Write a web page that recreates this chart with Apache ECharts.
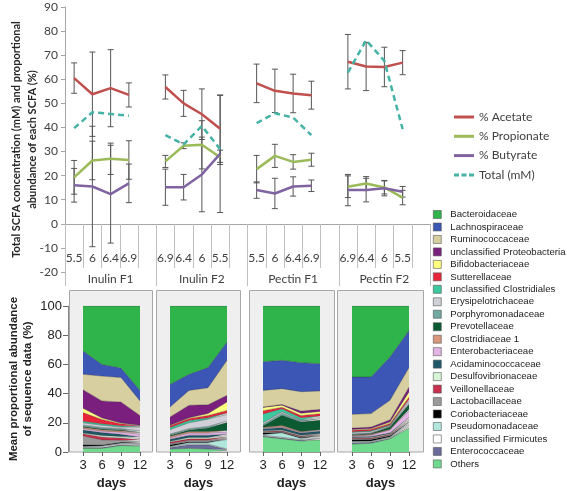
<!DOCTYPE html>
<html><head><meta charset="utf-8">
<script src="https://cdn.jsdelivr.net/npm/echarts@6/dist/echarts.min.js"></script>
<style>html,body{margin:0;padding:0;background:#fff}#c{width:567px;height:491px}</style>
</head><body><div id="c"></div>
<script>
// ---------- Top chart data ----------
const phLabels = ['5.5','6','6.4','6.9','', '6.9','6.4','6','5.5','', '5.5','6','6.4','6.9','', '6.9','6.4','6','5.5',''];
const groups = ['Inulin F1','Inulin F2','Pectin F1','Pectin F2'];
const acetate    = [60.5,53.8,56.3,53.5,null, 56.8,50,45.5,39.5,null, 58.3,55.2,54.1,53.4,null, 67.3,65.3,65.1,66.9,null];
const acetateErr = [6.3,17.5,16,5,null, 5,5.4,10.5,14,null, 8,9,8,5.8,null, 11.3,10,8.2,5,null];
const propionate    = [19.3,26.3,27,26.5,null, 25.9,32.4,32.8,27.6,null, 22.7,28.2,25.7,26.6,null, 15.4,16.7,15.1,10.9,null];
const propionateErr = [7,8,6.5,8,null, 2.5,1.2,10,3,null, 5.7,4.8,3,2.7,null, 4.5,2.9,2.7,3,null];
const butyrate    = [16,15.5,12.3,16.8,null, 15.2,15.2,20.5,29,null, 14,12.6,15.5,15.8,null, 14,14,14.8,13.3,null];
const butyrateErr = [7,25,20.3,8,null, 7.5,5.3,15.5,24.3,null, 3.4,6.3,4,2.4,null, 6.5,4.9,3.2,2.2,null];
const totalMM = [39.7,46.3,45.6,44.9,null, 36.8,33,40.6,31,null, 41.8,45.9,44.1,36.8,null, 62.8,76.2,67.6,39.3,null];

// ---------- Bottom chart data ----------
const days = ['3','6','9','12'];
const taxa = ['Bacteroidaceae','Lachnospiraceae','Ruminococcaceae','unclassified Proteobacteria','Bifidobacteriaceae','Sutterellaceae','unclassified Clostridiales','Erysipelotrichaceae','Porphyromonadaceae','Prevotellaceae','Clostridiaceae 1','Enterobacteriaceae','Acidaminococcaceae','Desulfovibrionaceae','Veillonellaceae','Lactobacillaceae','Coriobacteriaceae','Pseudomonadaceae','unclassified Firmicutes','Enterococcaceae','Others'];
const taxaColors = ['#2FB34B','#3B56B5','#D8CFA0','#7A1F7E','#FFFF80','#E8263A','#3CC9A0','#D0D0D8','#70A8A2','#0C5A32','#D9977B','#E4B4E6','#1E5868','#D8F5D8','#C8304C','#9A9A9A','#000000','#B0E6DC','#FFFFFF','#6A6A9C','#70DA8C'];
const inulinF1 = [
  [30.8,40,42.5,57.8],[16,8,6.5,7.2],[10.5,17,16.8,10],[12.7,11.7,14.3,6.7],[3,1,0.5,0.3],[6,3,1.5,0.5],
  [1,1,0.8,0.5],[1.5,1.5,1,2.5],[1,1,1,1],[0.5,0.5,0.5,0.5],[1,1,1,0.8],[1,1,1.5,2],[2,2,1.5,1],
  [0.5,1,1,1],[1.5,2,1.5,1],[6,3.5,1.5,1],[1,0.5,0.5,0.5],[0.5,0.5,0.5,0.5],[0.5,0.8,0.6,0.6],[0.5,0.5,0.6,0.6],[2.5,2.5,4.4,4]
];
const inulinF2 = [
  [53.7,46.8,42.2,24.7],[15.5,11,13.8,12.5],[6.8,10.2,11.6,24],[5.7,8.5,6.1,4.6],[0.3,0.5,1.3,5.7],[1.2,1.5,1.5,1.8],
  [1.5,1.5,1,1],[3,4,5,4.5],[1,1,1,1],[0.5,1,2.5,5.5],[1,1,1,1],[1,1.5,1.5,1.5],[1.5,1.5,1.5,1],
  [0.5,1,1,1],[1,1,1,0.7],[0.8,1,1,0.5],[1,0.5,0.5,0.5],[0.5,1,1,6.5],[0.5,0.5,0.5,0.5],[1,2.5,3,0.5],[2,2.5,2,1]
];
const pectinF1 = [
  [38.2,37.2,38.8,39.5],[19.6,19.4,19.9,18.7],[11.4,10.8,13.3,12.6],[0.3,0.5,1.5,1.5],[2.2,1.5,1.5,1.5],[2.3,1,1.5,1.5],
  [6,2,1.5,1],[1,1,0.5,1],[1,1.5,1,1],[1,7,6.5,6.5],[0.5,1,0.5,0.5],[0.5,0.5,0.5,0.5],[1.5,1.5,1.5,1.5],
  [0.5,0.5,0.5,0.5],[0.5,0.5,0.5,0.5],[0.5,0.5,0.5,0.5],[1,0.5,0.5,0.5],[0.5,3,1,1],[0.5,0.5,0.5,0.5],[0.5,0.6,0.5,1],[10.5,9,7.5,8.2]
];
const pectinF2 = [
  [48.6,48.6,35,16.7],[25.6,25.1,29.6,25.5],[9.4,9.2,13.3,13.3],[1,1,1.5,3.4],[0.5,0.5,1,3.4],[1,1,1,1.5],
  [0.5,0.5,0.5,1],[1,1,0.5,1.5],[0.5,0.5,0.5,1],[0.5,0.5,1.5,3.4],[0.5,0.5,0.5,1],[0.5,1,2,4.5],[0.5,0.5,0.5,1],
  [0.5,0.5,0.5,1],[0.5,0.5,0.5,1],[0.5,0.5,0.5,0.5],[1,1,0.6,1],[0.5,0.5,0.5,1],[0.5,0.5,0.5,1],[1,0.6,0.5,1],[5.4,6,9,16.3]
];
const panels = [inulinF1, inulinF2, pectinF1, pectinF2];

// ---------- build ----------
const chart = echarts.init(document.getElementById('c'), null, {renderer:'canvas'});
const topFont = 'Lato';
const botFont = 'Liberation Sans';
const lineColors = {'% Acetate':'#C0504D','% Propionate':'#9BBB59','% Butyrate':'#8064A2','Total (mM)':'#45B3A6'};

function errData(vals, errs){
  const out = [];
  vals.forEach((v,i)=>{ if(v!=null && errs[i]!=null) out.push([i, v-errs[i], v+errs[i]]); });
  return out;
}
function errSeries(vals, errs){
  return {
    type:'custom', xAxisIndex:0, yAxisIndex:0, z:3, silent:true,
    data: errData(vals, errs),
    encode:{x:0, y:[1,2]},
    renderItem:(params, api)=>{
      const x = api.value(0);
      const lo = api.coord([x, api.value(1)]);
      const hi = api.coord([x, api.value(2)]);
      const w = 3;
      const st = {stroke:'#555555', lineWidth:1};
      return {type:'group', children:[
        {type:'line', shape:{x1:lo[0],y1:lo[1],x2:hi[0],y2:hi[1]}, style:st},
        {type:'line', shape:{x1:lo[0]-w,y1:lo[1],x2:lo[0]+w,y2:lo[1]}, style:st},
        {type:'line', shape:{x1:hi[0]-w,y1:hi[1],x2:hi[0]+w,y2:hi[1]}, style:st}
      ]};
    }
  };
}

function lineSeries(name, data, dashed){
  const c = lineColors[name];
  return {name:name, type:'line', data:data, symbol:'none', color:c, itemStyle:{color:c},
    lineStyle:{width:2.5, color:c, type: dashed ? [6,4] : 'solid'}, z:4};
}
const series = [
  lineSeries('% Acetate', acetate),
  lineSeries('% Propionate', propionate),
  lineSeries('% Butyrate', butyrate),
  lineSeries('Total (mM)', totalMM, true),
  errSeries(acetate, acetateErr),
  errSeries(propionate, propionateErr),
  errSeries(butyrate, butyrateErr)
];

panels.forEach((pd, p)=>{
  for(let t=taxa.length-1; t>=0; t--){
    series.push({
      name:taxa[t], type:'line', xAxisIndex:p+2, yAxisIndex:p+1, stack:'s'+p,
      data:pd[t], symbol:'none', color:taxaColors[t],
      itemStyle:{color:taxaColors[t]},
      areaStyle:{color:taxaColors[t], opacity:1},
      lineStyle:{width:0.6, color:'rgba(40,40,40,0.55)'}
    });
  }
});

const plotLefts = [83,170,263,352];
const grids = [{left:62, top:7, width:368, height:265}];
plotLefts.forEach(l=>grids.push({left:l, top:306, width:57, height:146}));

const xAxes = [
  {type:'category', gridIndex:0, data:phLabels, boundaryGap:true, position:'bottom', offset:-48,
   axisLine:{show:true, onZero:false, lineStyle:{color:'#A6A6A6'}},
   axisTick:{show:true, length:44, lineStyle:{color:'#BFBFBF'}},
   axisLabel:{interval:0, margin:28, fontSize:12, color:'#404040', fontFamily:topFont}},
  {type:'category', gridIndex:0, data:groups, position:'bottom', offset:-48,
   axisLine:{show:false, onZero:false},
   axisTick:{show:true, length:62, lineStyle:{color:'#BFBFBF'}},
   axisLabel:{interval:0, margin:49, fontSize:12, color:'#404040', fontFamily:topFont}}
];
const yAxes = [
  {type:'value', gridIndex:0, min:-20, max:90, interval:10,
   axisLine:{show:true, lineStyle:{color:'#A6A6A6'}},
   axisTick:{show:true, length:4, lineStyle:{color:'#A6A6A6'}},
   splitLine:{show:false},
   axisLabel:{fontSize:12, color:'#404040', margin:7, fontFamily:topFont},
   name:'Total SCFA concentration (mM) and proportional\nabundance of each SCFA (%)',
   nameLocation:'middle', nameGap:25, nameMoveOverlap:false,
   nameTextStyle:{fontWeight:'bold', fontSize:11, lineHeight:16, color:'#262626', fontFamily:topFont}}
];
plotLefts.forEach((l,p)=>{
  xAxes.push({type:'category', gridIndex:p+1, data:days, boundaryGap:false,
    axisLine:{show:true, lineStyle:{color:'#999999'}},
    axisTick:{show:true, alignWithLabel:true, length:4, lineStyle:{color:'#666666'}},
    axisLabel:{interval:0, fontSize:13, color:'#222', margin:7, fontFamily:botFont},
    name:'days', nameLocation:'middle', nameGap:25,
    nameTextStyle:{fontWeight:'bold', fontSize:13, color:'#222', fontFamily:botFont}});
  const y = {type:'value', gridIndex:p+1, min:0, max:100, interval:20, splitLine:{show:false}};
  if(p===0){
    Object.assign(y, {offset:15,
      axisLine:{show:true, lineStyle:{color:'#888888'}},
      axisTick:{show:true, length:5, lineStyle:{color:'#666666'}},
      axisLabel:{fontSize:13, color:'#222', margin:6, fontFamily:botFont},
      name:'Mean proportional abundance\nof sequence data (%)',
      nameLocation:'middle', nameGap:33, nameMoveOverlap:false,
      nameTextStyle:{fontWeight:'bold', fontSize:11.5, lineHeight:14, color:'#222', fontFamily:botFont}});
  } else {
    Object.assign(y, {axisLine:{show:false}, axisTick:{show:false}, axisLabel:{show:false}});
  }
  yAxes.push(y);
});

const boxes = [[69,152],[156,240],[249,334],[337,423]];
const graphic = boxes.map(b=>({type:'rect', z:-1, shape:{x:b[0]+0.5, y:290.5, width:b[1]-b[0], height:161.5},
  style:{fill:'#EFEFEF', stroke:'#A8A8A8', lineWidth:1}}));

const dashIcon = 'path://M0,0h5v3h-5z M7.5,0h5v3h-5z M15,0h5v3h-5z';
const legendLine = Object.keys(lineColors).map(n=>({name:n, icon: n==='Total (mM)' ? dashIcon : 'rect',
  itemStyle:{color:lineColors[n], borderWidth:0}}));

chart.setOption({
  animation:false,
  textStyle:{fontFamily:topFont},
  grid:grids, xAxis:xAxes, yAxis:yAxes,
  legend:[
    {data:legendLine, orient:'vertical', left:449, top:106,
     itemWidth:20, itemHeight:3, itemGap:7.3, selectedMode:false,
     textStyle:{fontSize:12, lineHeight:12, color:'#404040', fontFamily:topFont}},
    {data:taxa, orient:'vertical', left:428, top:203.5, icon:'rect', itemWidth:8, itemHeight:8, itemGap:0.47,
     selectedMode:false, itemStyle:{borderColor:'#555', borderWidth:0.6},
     textStyle:{fontSize:9.6, lineHeight:12, color:'#222', fontFamily:botFont, padding:[0,0,0,4]}}
  ],
  graphic:graphic,
  series:series
});
</script></body></html>
